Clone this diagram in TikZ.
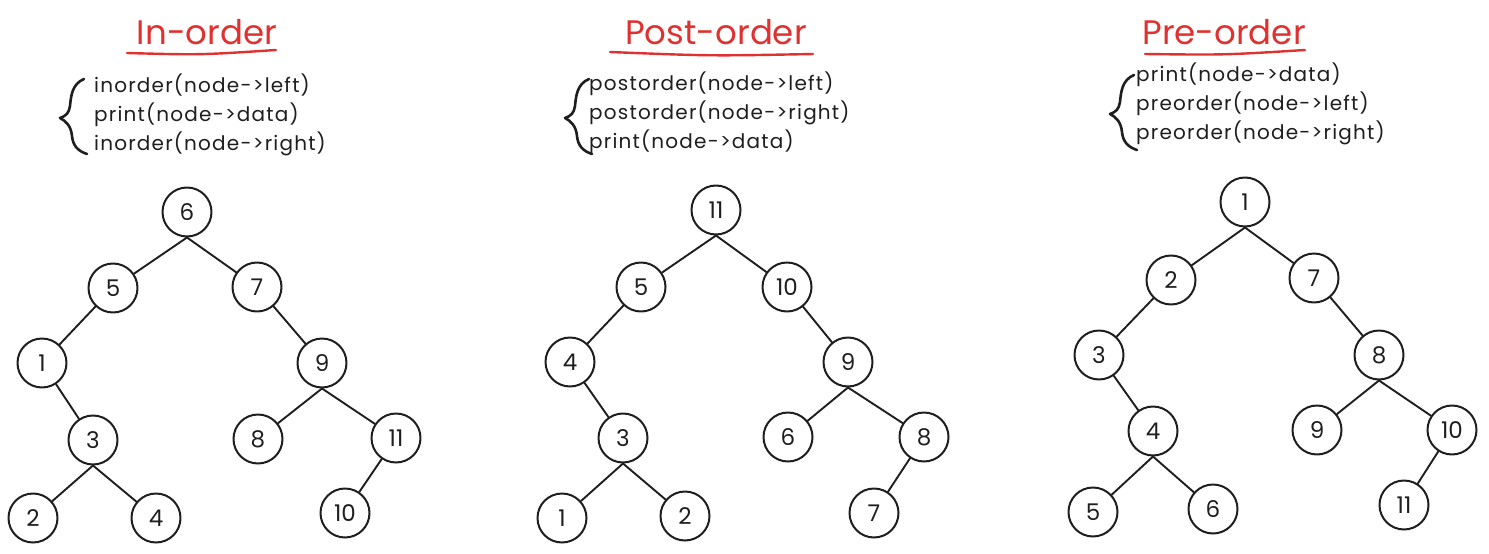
\documentclass[tikz,border=0pt]{standalone}
\usepackage{fontspec}
\setmainfont{Poppins}
\newfontfamily\codefont[LetterSpace=6]{Poppins}
\definecolor{ink}{HTML}{1E1E1E}
\definecolor{redpen}{HTML}{E03131}
\tikzset{
  vert/.style={circle, draw=ink, line width=2pt, minimum size=49pt, inner sep=0pt, font=\fontsize{23}{24}\selectfont, text=ink},
  edge/.style={draw=ink, line width=1.9pt},
  heading/.style={text=redpen, font=\fontsize{34}{38}\selectfont},
  code/.style={anchor=west, align=left, text=ink, inner sep=0pt, font=\codefont\fontsize{20}{29}\selectfont}
}
\begin{document}
\begin{tikzpicture}[x=1pt, y=-1pt, line cap=round, line join=round]
\useasboundingbox (0,0) rectangle (1489,554);
% titles
\node[heading] (ti) at (207,32) {In-order};
\node[heading] (tp) at (716,32) {Post-order};
\node[heading] (tr) at (1224,32) {Pre-order};
\draw[redpen, line width=2.4pt] (127,53) .. controls (200,55) .. (276,50);
\draw[redpen, line width=2.4pt] (610,52) .. controls (710,56) .. (813,54);
\draw[redpen, line width=2.4pt] (1145,54) .. controls (1225,55) .. (1305,50);
% code
\node[code] (ci) at (94,115) {inorder(node->left)\\print(node->data)\\inorder(node->right)};
\node[code] (cp) at (589,113) {postorder(node->left)\\postorder(node->right)\\print(node->data)};
\node[code] (cr) at (1136,104) {print(node->data)\\preorder(node->left)\\preorder(node->right)};
\foreach \bx/\by in {0/0, 505/0, 1050/-4}
  \draw[ink, line width=2.6pt, shift={(\bx,\by)}] (84,79) .. controls (72,84) and (71,96) .. (70,106)
    .. controls (69,113) and (66,116) .. (60,118) .. controls (66,121) and (71,126) .. (72,136)
    .. controls (73,146) and (78,151) .. (87,154);

% in-order tree
\node[vert] (i6) at (187,212) {6};
\node[vert] (i5) at (113,288) {5};
\node[vert] (i7) at (257,287) {7};
\node[vert] (i1) at (42,363) {1};
\node[vert] (i9) at (322,363) {9};
\node[vert] (i3) at (93,440) {3};
\node[vert] (i8) at (258,439) {8};
\node[vert] (i11) at (396,438) {11};
\node[vert] (i2) at (33,518) {2};
\node[vert] (i4) at (156,518) {4};
\node[vert] (i10) at (345,513) {10};
\draw[edge] (i6.south)--(i5) (i6.south)--(i7) (i5)--(i1) (i1)--(i3) (i3.south)--(i2) (i3.south)--(i4)
  (i7)--(i9) (i9.south)--(i8) (i9.south)--(i11) (i11)--(i10);

% post-order tree
\node[vert] (p11) at (716,210) {11};
\node[vert] (p5) at (641,287) {5};
\node[vert] (p10) at (787,287) {10};
\node[vert] (p4) at (570,362) {4};
\node[vert] (p9) at (848,362) {9};
\node[vert] (p3) at (623,438) {3};
\node[vert] (p6) at (788,437) {6};
\node[vert] (p8) at (924,437) {8};
\node[vert] (p1) at (562,518) {1};
\node[vert] (p2) at (685,516) {2};
\node[vert] (p7) at (874,513) {7};
\draw[edge] (p11.south)--(p5) (p11.south)--(p10) (p5)--(p4) (p4)--(p3) (p3.south)--(p1) (p3.south)--(p2)
  (p10)--(p9) (p9.south)--(p6) (p9.south)--(p8) (p8)--(p7);

% pre-order tree
\node[vert] (r1) at (1245,202) {1};
\node[vert] (r2) at (1171,280) {2};
\node[vert] (r7) at (1314,278) {7};
\node[vert] (r3) at (1099,355) {3};
\node[vert] (r8) at (1379,355) {8};
\node[vert] (r4) at (1153,431) {4};
\node[vert] (r9) at (1317,430) {9};
\node[vert] (r10) at (1452,430) {10};
\node[vert] (r5) at (1093,512) {5};
\node[vert] (r6) at (1213,509) {6};
\node[vert] (r11) at (1404,505) {11};
\draw[edge] (r1.south)--(r2) (r1.south)--(r7) (r2)--(r3) (r3)--(r4) (r4.south)--(r5) (r4.south)--(r6)
  (r7)--(r8) (r8.south)--(r9) (r8.south)--(r10) (r10)--(r11);
\end{tikzpicture}
\end{document}
